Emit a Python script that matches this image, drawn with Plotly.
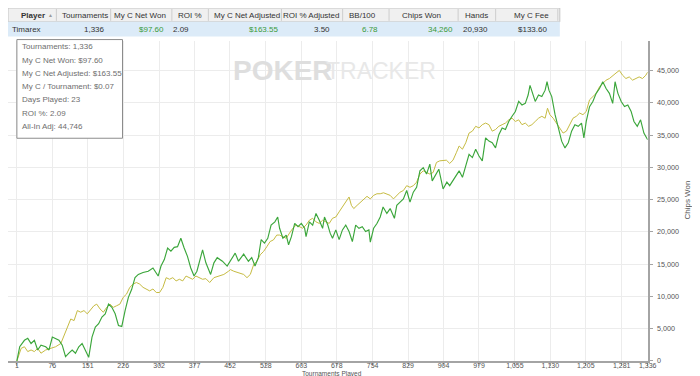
import plotly.graph_objects as go

W, H = 700, 376

# ---------------- data ----------------
green_t = [1, 7, 17, 24, 31, 38, 45, 52, 62, 69,
           76, 83, 90, 97, 104, 111, 118, 125, 132, 139,
           146, 153, 160, 167, 174, 181, 188, 195, 202, 209,
           216, 223, 230, 237, 244, 251, 258, 268, 279, 289,
           300, 306, 313, 320, 327, 334, 341, 348, 355, 362,
           369, 376, 382, 390, 394, 401, 408, 411, 418, 425,
           436, 446,
           463, 470, 481, 491, 498, 505, 512, 518, 525, 532,
           539, 547, 553, 557, 564, 571, 576, 582, 589, 596,
           603, 610, 613, 620, 627, 634, 641, 648, 652, 659,
           664, 669, 676, 683, 690, 697, 704, 711, 718, 725,
           732, 739, 746, 749, 756, 763, 770, 776, 784, 791,
           800, 805, 812, 819, 826, 833, 840, 847, 854, 861,
           868, 875, 880, 889, 894, 903, 911, 917,
           930, 937, 944, 951, 958, 965, 972, 979, 986, 993,
           1000, 1007, 1014, 1021, 1028, 1035, 1042, 1049, 1056, 1063,
           1070, 1077, 1083, 1087, 1092, 1098, 1105, 1112, 1119, 1123,
           1127, 1133, 1140, 1147, 1154, 1161, 1168, 1175, 1182, 1189,
           1196, 1201, 1206, 1213, 1220, 1227, 1234, 1241, 1248, 1255,
           1262, 1267, 1273, 1280, 1287, 1294, 1301, 1307, 1314, 1321,
           1328, 1336]
green_v = [0, 2200, 3200, 3500, 2700, 3200, 1700, 2450, 2200, 1700,
           3700, 3500, 3200, 2450, 670, 1200, 1700, 1200, 2200, 2700,
           1700, 560, 3700, 5260, 5760, 6800, 7300, 8800, 8300, 7300,
           5500, 5350, 7800, 9850, 11100, 12900, 13400, 13700, 13900, 14400,
           13150, 14700, 15700, 17500, 17000, 17600, 17700, 19000, 17500, 16200,
           14400, 13150, 13900, 16000, 17200, 15200, 13900, 13400, 15200, 16000,
           15450, 14700,
           16700, 15450, 16550, 15450, 16000, 14700, 16000, 18800, 18250, 19000,
           21050, 21550, 22300, 20550, 19000, 19500, 18000, 19250, 21300, 20800,
           21300, 20550, 19250, 21550, 21050, 22850, 21800, 20550, 22300, 21050,
           19800, 19000, 20300, 18800, 20300, 21050, 20050, 18500, 21050, 20550,
           20800, 20050, 20300, 18400, 20550, 21300, 22300, 23850, 22850, 23600,
           22100, 24100, 24600, 25100, 26400, 24600, 26150, 26900, 29450, 29950,
           28950, 30500, 27900, 29200, 29700, 26650, 27700, 27150,
           28700, 29450, 28450, 30250, 32000, 31500, 32800, 31750, 31000, 34550,
           34050, 33800, 33000, 35050, 36100, 35850, 37100, 37900, 38650, 40200,
           39650, 39900, 41200, 42700, 41450, 40200, 41200, 40950, 41950, 43250,
           41950, 40950, 38150, 36100, 34050, 33000, 33800, 35600, 36600, 36350,
           36850, 34550, 37100, 39400, 40200, 41450, 42200, 43250, 42200, 41450,
           39900, 43250, 41450, 40200, 39400, 39650, 38650, 37100, 36350, 37350,
           35300, 34260]

yellow_t = [1, 10, 17, 24, 31, 38, 45, 52, 62, 73,
            83, 94, 101, 108, 115, 122, 129, 136, 143, 150,
            156, 164, 170, 177, 184, 191, 198, 205, 212, 219,
            226, 233, 240, 247, 254, 261, 268, 275, 282, 289,
            296, 303, 310, 317, 324, 331, 338, 345, 352, 359,
            366, 373, 380, 387, 394, 401, 409, 418, 428, 439,
            449,
            453, 460, 470, 481, 488, 495, 502, 509, 516, 523,
            530, 537, 544, 551, 557, 564, 571, 578, 585, 592,
            599, 606, 613, 620, 627, 634, 641, 648, 655, 662,
            669, 676, 683, 690, 697, 704, 709, 714, 721, 728,
            735, 742, 749, 756, 763, 770, 777, 784, 791, 798,
            805, 812, 819, 826, 833, 840, 847, 854, 861, 868,
            875, 882, 889, 896, 903, 910, 917, 924,
            931, 937, 944, 951, 958, 965, 972, 979, 986, 993,
            1000, 1007, 1014, 1021, 1028, 1035, 1042, 1049, 1056, 1063,
            1070, 1077, 1084, 1091, 1098, 1105, 1112, 1119, 1124, 1129,
            1136, 1143, 1150, 1157, 1164, 1171, 1178, 1185, 1192, 1199,
            1206, 1213, 1220, 1227, 1234, 1241, 1248, 1255, 1262, 1269,
            1276, 1283, 1290, 1297, 1304, 1311, 1318, 1325, 1332, 1336]
yellow_v = [0, 1950, 2200, 1450, 1700, 1450, 1950, 1200, 1700, 1950,
            2200, 2700, 3950, 5250, 6500, 6250, 7800, 7550, 7800, 7300,
            7800, 8550, 8800, 8050, 7550, 8300, 8800, 8300, 8550, 8800,
            9850, 10350, 11400, 11900, 12150, 11900, 11400, 11150, 10850, 11150,
            10600, 10600, 11400, 12900, 12650, 12900, 12400, 12650, 12400, 13150,
            12900, 12650, 13150, 12900, 12650, 12750, 12150, 12900, 13150, 13400,
            13900,
            14150, 13900, 13650, 13400, 12900, 13400, 14900, 15450, 16450, 16950,
            17700, 18500, 18750, 19500, 19500, 19250, 19000, 19800, 20550, 21050,
            20800, 20550, 21050, 21800, 22100, 21550, 21300, 21800, 21550, 21300,
            22100, 22300, 23100, 23850, 24600, 25400, 24100, 23600, 24100, 24600,
            25100, 25500, 25100, 25650, 25900, 25900, 26050, 25900, 25650, 25100,
            25650, 26150, 26400, 27150, 26900, 27150, 27700, 28950, 29450, 29200,
            28950, 29200, 30750, 31000, 31000, 31100, 30600, 31100,
            32250, 33300, 32800, 33800, 35300, 35600, 36350, 36100, 36600, 36850,
            36600, 35600, 35850, 36350, 36600, 36850, 37350, 37600, 37100, 37350,
            36600, 36850, 36350, 36600, 37100, 37600, 37900, 37600, 39150, 38150,
            37600, 36850, 36100, 35300, 35600, 36600, 37600, 37900, 38400, 38150,
            38650, 40450, 40950, 41450, 42450, 42950, 43500, 43750, 44250, 44600,
            45000, 44250, 43750, 44000, 43500, 43750, 44000, 43750, 44250, 44746]

x_tick_vals = [1, 76, 151, 226, 302, 377, 452, 528, 603, 678,
               754, 829, 904, 979, 1055, 1130, 1205, 1281, 1336]
x_tick_text = ["1", "76", "151", "226", "302", "377", "452", "528", "603", "678",
               "754", "829", "904", "979", "1,055", "1,130", "1,205", "1,281", "1,336"]
y_tick_vals = [0, 5000, 10000, 15000, 20000, 25000, 30000, 35000, 40000, 45000]

header_labels = ["Player", "Tournaments", "My C Net Won", "ROI %", "My C Net Adjusted",
                 "ROI % Adjusted", "BB/100", "Chips Won", "Hands", "My C Fee"]
row_values = ["Timarex", "1,336", "$97.60", "2.09", "$163.55", "3.50",
              "6.78", "34,260", "20,930", "$133.60"]
row_is_green = [False, False, True, False, True, False, True, True, False, False]

tooltip_lines = ["Tournaments: 1,336", "My C Net Won: $97.60", "My C Net Adjusted: $163.55",
                 "My C / Tournament: $0.07", "Days Played: 23", "ROI %: 2.09", "All-In Adj: 44,746"]

# ---------------- layout helpers (pixel -> paper) ----------------
def fx(px):
    return px / W


def fy(py):
    return 1 - py / H


PLOT_L, PLOT_R, PLOT_T, PLOT_B = 0, 648, 33, 357.7
X_FIRST_PX = 9
ppu = (PLOT_R - X_FIRST_PX) / (1336 - 1)
x_lo = 1 - (X_FIRST_PX - PLOT_L) / ppu
px_per_5000 = (PLOT_B - 63.3) / 9
y_hi = (PLOT_B - PLOT_T) / px_per_5000 * 5000

UI_FONT = "Liberation Sans"

fig = go.Figure()
fig.add_trace(go.Scatter(x=yellow_t, y=yellow_v, mode="lines",
                         line=dict(color="#c6bb42", width=1.0), hoverinfo="skip"))
fig.add_trace(go.Scatter(x=green_t, y=green_v, mode="lines",
                         line=dict(color="#3ba63b", width=1.15), hoverinfo="skip"))

fig.update_layout(
    width=W, height=H,
    margin=dict(l=0, r=0, t=0, b=0),
    paper_bgcolor="white", plot_bgcolor="white",
    showlegend=False,
    xaxis=dict(domain=[fx(PLOT_L), fx(PLOT_R)], range=[x_lo, 1336],
               tickvals=x_tick_vals, ticktext=x_tick_text,
               showgrid=True, gridcolor="#ececec", gridwidth=1,
               showline=True, linecolor="#a4a4a4", linewidth=2,
               ticks="outside", ticklen=3, tickcolor="#a4a4a4",
               ticklabelstandoff=-6,
               tickfont=dict(size=7, color="#555555", family=UI_FONT),
               zeroline=False, fixedrange=True),
    yaxis=dict(domain=[fy(PLOT_B), fy(PLOT_T)], range=[0, y_hi], side="right",
               tickvals=y_tick_vals, tickformat=",d",
               showgrid=True, gridcolor="#ececec", gridwidth=1,
               showline=True, linecolor="#a4a4a4", linewidth=2,
               ticks="outside", ticklen=3, tickcolor="#a4a4a4",
               ticklabelstandoff=3,
               tickfont=dict(size=7.2, color="#555555", family=UI_FONT),
               zeroline=False, fixedrange=True),
)

shapes = []
annotations = []

# table header + selected row
TABLE_R = 559
shapes.append(dict(type="rect", xref="paper", yref="paper", x0=fx(0), x1=fx(TABLE_R),
                   y0=fy(14), y1=fy(0), fillcolor="#f0f0f0", line=dict(color="#c4c4c4", width=1),
                   layer="above"))
shapes.append(dict(type="rect", xref="paper", yref="paper", x0=fx(0), x1=fx(TABLE_R),
                   y0=fy(29), y1=fy(14), fillcolor="#dcebf8", line=dict(width=0), layer="above"))
col_seps = [49, 104, 166, 203, 277, 339, 386, 456, 494, 557]
for sx in col_seps:
    shapes.append(dict(type="line", xref="paper", yref="paper", x0=fx(sx), x1=fx(sx),
                       y0=fy(13), y1=fy(1), line=dict(color="#cdcdcd", width=1), layer="above"))
header_cx = [25, 77.5, 134, 184.5, 242, 306.5, 359, 419, 475, 530.5]
for i, lab in enumerate(header_labels):
    txt = "<b>%s</b>" % lab if i == 0 else lab
    annotations.append(dict(x=fx(header_cx[i]), y=fy(7.2), xref="paper", yref="paper",
                            text=txt, showarrow=False, xanchor="center", yanchor="middle",
                            font=dict(size=8, color="#333333", family=UI_FONT)))
annotations.append(dict(x=fx(43), y=fy(7.2), xref="paper", yref="paper", text="▲",
                        showarrow=False, xanchor="center", yanchor="middle",
                        font=dict(size=5, color="#9a9a9a", family=UI_FONT)))
row_right = [None, 100, 160, 185, 276, 328, 377, 453, 488, 548]
for i, val in enumerate(row_values):
    col = "#3a9a3a" if row_is_green[i] else "#333333"
    if i == 0:
        annotations.append(dict(x=fx(2), y=fy(22), xref="paper", yref="paper", text=val,
                                showarrow=False, xanchor="left", yanchor="middle",
                                font=dict(size=8, color=col, family=UI_FONT)))
    else:
        annotations.append(dict(x=fx(row_right[i]), y=fy(22), xref="paper", yref="paper",
                                text=val, showarrow=False, xanchor="right", yanchor="middle",
                                font=dict(size=8, color=col, family=UI_FONT)))

# tooltip box
shapes.append(dict(type="rect", xref="paper", yref="paper", x0=fx(9), x1=fx(116),
                   y0=fy(132), y1=fy(32), fillcolor="white",
                   line=dict(color="#8c8c8c", width=1), layer="above"))
for i, line in enumerate(tooltip_lines):
    annotations.append(dict(x=fx(12), y=fy(39.3 + i * 13.45), xref="paper", yref="paper",
                            text=line, showarrow=False, xanchor="left", yanchor="middle",
                            font=dict(size=8, color="#6e6e6e", family=UI_FONT)))

# watermark
annotations.append(dict(x=fx(226), y=fy(63.5), xref="paper", yref="paper",
                        text="<b>POKER</b>", showarrow=False, xanchor="left", yanchor="middle",
                        font=dict(size=28, color="#dedede", family="Liberation Sans")))
annotations.append(dict(x=fx(320), y=fy(64), xref="paper", yref="paper",
                        text="TRACKER", showarrow=False, xanchor="left", yanchor="middle",
                        font=dict(size=23, color="#e8e8e8", family="Liberation Sans")))

# axis titles
annotations.append(dict(x=fx(688), y=fy(195), xref="paper", yref="paper", text="Chips Won",
                        showarrow=False, textangle=-90, xanchor="center", yanchor="middle",
                        font=dict(size=8, color="#555555", family=UI_FONT)))
annotations.append(dict(x=fx(328), y=fy(376), xref="paper", yref="paper",
                        text="Tournaments Played", showarrow=False, xanchor="center",
                        yanchor="bottom", borderpad=0,
                        font=dict(size=6.5, color="#555555", family=UI_FONT)))

fig.update_layout(shapes=shapes, annotations=annotations)
fig.write_html("out.html")
